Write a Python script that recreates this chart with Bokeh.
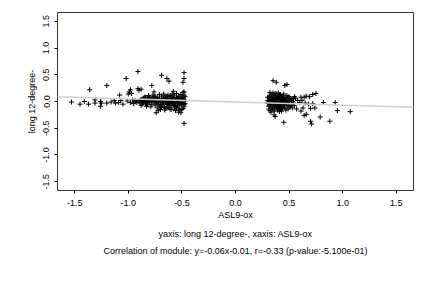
from bokeh.plotting import figure
from bokeh.models import Range1d, Title, FixedTicker, Slope, ColumnDataSource
from bokeh.embed import file_html
from bokeh.resources import INLINE

# ---- data ----
left_x = [-1.53, -1.45, -1.41, -1.36, -1.37, -1.31, -1.31, -1.26, -1.26, -1.25, -1.20, -1.20, -1.16, -1.13,
          -1.12, -1.09, -1.08, -1.07, -1.05, -1.02, -1.01, -1.00, -0.99, -0.98, -0.97, -0.98, -0.96, -0.95,
          -0.93, -0.91, -0.91, -0.90, -0.88, -0.89, -0.87, -0.78, -0.76, -0.69, -0.64, -0.62, -0.49, -0.48,
          -0.48, -0.48, -0.48, -0.49, -0.74, -0.72, -0.70, -0.66, -0.60, -0.56, -0.53, -0.51, -0.50, -0.58,
          -0.67, -0.81, -0.84, -0.62,
          -0.90, -0.89, -0.88, -0.87, -0.86, -0.86, -0.85, -0.84, -0.84, -0.83, -0.82, -0.82, -0.81, -0.80,
          -0.80, -0.79, -0.78, -0.78, -0.77, -0.76, -0.76, -0.75, -0.75, -0.74, -0.74, -0.73, -0.73, -0.72,
          -0.72, -0.71, -0.71, -0.70, -0.70, -0.69, -0.69, -0.68, -0.68, -0.67, -0.67, -0.66, -0.66, -0.65,
          -0.65, -0.64, -0.64, -0.63, -0.63, -0.62, -0.62, -0.61, -0.61, -0.60, -0.60, -0.59, -0.59, -0.58,
          -0.58, -0.57, -0.57, -0.56, -0.56, -0.55, -0.55, -0.54, -0.54, -0.53, -0.53, -0.52, -0.52, -0.51,
          -0.51, -0.50, -0.50, -0.49, -0.49, -0.48, -0.48, -0.47, -0.47, -0.47,
          -0.88, -0.85, -0.83, -0.81, -0.79, -0.77, -0.75, -0.73, -0.71, -0.69, -0.67, -0.65, -0.63, -0.61,
          -0.59, -0.57, -0.55, -0.53, -0.51, -0.49, -0.48, -0.52, -0.56, -0.60, -0.64, -0.68, -0.72, -0.76,
          -0.80, -0.84, -0.62, -0.58, -0.54, -0.50, -0.66, -0.70, -0.74, -0.78, -0.82, -0.86, -0.92, -0.94,
          -0.60, -0.55, -0.50, -0.48, -0.53, -0.57, -0.63, -0.65]
left_y = [-0.01, -0.05, 0.00, 0.22, -0.05, -0.03, 0.03, 0.00, -0.09, -0.03, 0.30, -0.03, -0.01, 0.02,
          -0.03, -0.02, 0.12, 0.02, -0.05, 0.43, 0.01, 0.14, 0.18, 0.22, 0.15, -0.02, 0.03, -0.04,
          0.01, 0.56, 0.24, 0.21, 0.23, 0.02, -0.05, 0.30, 0.18, 0.49, 0.43, 0.38, 0.36, 0.43,
          0.54, -0.41, 0.18, 0.17, -0.21, -0.17, -0.15, -0.16, -0.15, -0.17, -0.20, -0.21, -0.15, 0.19,
          0.12, 0.10, 0.08, -0.08,
          0.01, -0.03, 0.04, 0.00, -0.02, 0.06, 0.02, -0.04, 0.03, 0.00, 0.05, -0.06, 0.01, -0.02,
          0.07, 0.03, -0.05, 0.00, 0.04, -0.01, 0.09, -0.07, 0.02, 0.05, -0.03, 0.00, 0.08, -0.05,
          0.03, 0.06, -0.09, 0.01, -0.02, 0.10, 0.04, -0.06, 0.00, 0.07, -0.03, 0.02, -0.10, 0.05,
          -0.01, 0.09, -0.05, 0.03, -0.12, 0.00, 0.06, -0.04, 0.11, 0.02, -0.08, 0.05, -0.02, 0.08,
          -0.06, 0.01, 0.12, -0.03, 0.04, -0.11, 0.07, 0.00, -0.05, 0.10, 0.03, -0.08, 0.05, -0.01,
          0.13, 0.02, -0.06, 0.08, -0.03, 0.04, -0.10, 0.01, -0.04, 0.09,
          -0.07, 0.08, -0.09, 0.11, -0.10, 0.12, 0.10, -0.12, 0.13, -0.11, 0.14, -0.13, 0.12, -0.14,
          0.14, -0.12, 0.15, -0.14, 0.10, -0.13, 0.12, -0.16, -0.09, 0.09, 0.00, 0.03, -0.01, 0.03,
          0.02, -0.01, -0.02, 0.03, 0.06, -0.02, 0.05, -0.05, 0.01, 0.06, -0.03, 0.03, -0.02, 0.02,
          0.00, 0.02, 0.05, -0.06, -0.03, -0.07, -0.05, 0.08]

right_x = [0.35, 0.38, 0.46, 0.48, 0.32, 0.93, 0.95, 1.07, 0.82, 0.79, 0.88, 0.70, 0.71, 0.45,
           0.69, 0.72, 0.75, 0.66, 0.61, 0.64, 0.65, 0.68, 0.72, 0.63, 0.70, 0.74, 0.66, 0.64,
           0.53, 0.56, 0.60, 0.33, 0.36, 0.37, 0.58, 0.62, 0.55, 0.51, 0.57, 0.61,
           0.30, 0.30, 0.31, 0.31, 0.31, 0.32, 0.32, 0.32, 0.33, 0.33, 0.33, 0.33, 0.34, 0.34,
           0.34, 0.35, 0.35, 0.35, 0.35, 0.36, 0.36, 0.36, 0.36, 0.37, 0.37, 0.37, 0.37, 0.38,
           0.38, 0.38, 0.38, 0.39, 0.39, 0.39, 0.39, 0.40, 0.40, 0.40, 0.40, 0.41, 0.41, 0.41,
           0.41, 0.42, 0.42, 0.42, 0.42, 0.43, 0.43, 0.43, 0.43, 0.44, 0.44, 0.44, 0.45, 0.45,
           0.45, 0.46, 0.46, 0.46, 0.47, 0.47, 0.47, 0.48, 0.48, 0.49, 0.49, 0.50, 0.50, 0.51,
           0.52, 0.53, 0.54, 0.55,
           0.30, 0.31, 0.32, 0.33, 0.34, 0.35, 0.36, 0.37, 0.38, 0.39, 0.40, 0.41, 0.42, 0.43,
           0.44, 0.45, 0.46, 0.48, 0.49, 0.50, 0.52, 0.53, 0.51, 0.54, 0.34, 0.36, 0.38, 0.40,
           0.42, 0.44, 0.32, 0.35, 0.37, 0.39, 0.41, 0.43, 0.45, 0.47, 0.33, 0.31]
right_y = [0.39, 0.36, 0.30, 0.32, 0.17, -0.02, -0.17, -0.19, -0.02, -0.29, -0.37, -0.37, -0.42, -0.39,
           0.09, 0.13, 0.15, 0.10, 0.08, 0.08, -0.03, -0.05, -0.04, -0.12, -0.13, -0.12, -0.24, -0.26,
           0.05, 0.06, -0.02, -0.20, -0.25, -0.28, 0.02, 0.02, -0.08, -0.10, -0.14, -0.18,
           0.02, -0.04, 0.07, -0.01, -0.09, 0.04, -0.06, 0.10, 0.00, -0.03, 0.06, -0.12, 0.02, -0.07,
           0.09, -0.02, 0.05, -0.10, 0.12, 0.01, -0.05, 0.07, -0.14, 0.03, -0.08, 0.11, -0.01, 0.06,
           -0.04, -0.11, 0.00, 0.09, -0.02, 0.04, -0.07, 0.01, -0.13, 0.07, -0.04, 0.03, -0.09, 0.12,
           -0.01, 0.05, -0.06, 0.00, -0.15, 0.08, -0.03, 0.02, -0.10, 0.04, -0.05, 0.10, -0.01, -0.08,
           0.06, 0.01, -0.12, 0.03, -0.04, 0.08, -0.16, 0.00, -0.07, 0.05, -0.02, 0.02, -0.10, 0.06,
           -0.05, 0.00, -0.03, 0.09,
           0.08, -0.14, -0.17, 0.14, -0.15, 0.16, -0.18, 0.15, 0.14, -0.16, 0.16, -0.19, 0.13, -0.18,
           -0.13, 0.14, -0.06, 0.11, -0.14, 0.09, 0.03, -0.12, -0.08, 0.05, 0.04, -0.02, 0.03, -0.07,
           0.02, 0.00, -0.02, 0.01, -0.05, 0.00, 0.05, -0.06, 0.03, 0.00, 0.03, 0.01]

fit_slope = -0.06
fit_intercept = -0.01

x_ticks = [-1.5, -1.0, -0.5, 0.0, 0.5, 1.0, 1.5]
y_ticks = [-1.5, -1.0, -0.5, 0.0, 0.5, 1.0, 1.5]

x_title = "ASL9-ox"
y_title = "long 12-degree-"
line1 = "yaxis: long 12-degree-, xaxis: ASL9-ox"
line2 = "Correlation of module: y=-0.06x-0.01, r=-0.33 (p-value:-5.100e-01)"

FONT = "Liberation Sans"
FS = "9px"

p = figure(width=432, height=288, output_backend="svg", toolbar_location=None,
           x_range=Range1d(-1.66, 1.66), y_range=Range1d(-1.665, 1.665),
           min_border_left=57, min_border_right=19, min_border_top=12, min_border_bottom=98)
p.background_fill_color = "white"
p.border_fill_color = "white"
p.outline_line_color = "#333333"
p.outline_line_width = 1
p.xgrid.visible = False
p.ygrid.visible = False

for ax in (p.xaxis[0], p.yaxis[0]):
    ax.axis_line_color = None
    ax.major_tick_line_color = "black"
    ax.major_tick_in = 0
    ax.major_tick_out = 3
    ax.minor_tick_line_color = None
    ax.major_label_text_font = FONT
    ax.major_label_text_font_size = FS
    ax.major_label_text_color = "black"
    ax.axis_label_text_font = FONT
    ax.axis_label_text_font_size = FS
    ax.axis_label_text_font_style = "normal"
    ax.axis_label_text_color = "black"

p.xaxis.ticker = FixedTicker(ticks=x_ticks)
p.yaxis.ticker = FixedTicker(ticks=y_ticks)
p.xaxis.major_label_overrides = {t: f"{t:.1f}" for t in x_ticks}
p.yaxis.major_label_overrides = {t: f"{t:.1f}" for t in y_ticks}
p.yaxis.major_label_orientation = "vertical"
p.xaxis.major_label_standoff = 6
p.yaxis.major_label_standoff = 5
p.xaxis.axis_label = x_title
p.yaxis.axis_label = y_title
p.xaxis.axis_label_standoff = 1
p.yaxis.axis_label_standoff = 4

p.add_layout(Slope(gradient=fit_slope, y_intercept=fit_intercept,
                   line_color="#cfcfcf", line_width=1.5))

src = ColumnDataSource(dict(x=left_x + right_x, y=left_y + right_y))
p.scatter("x", "y", source=src, marker="cross", size=5, line_color="black", line_width=1)

t1 = Title(text=line1, align="center", text_font=FONT, text_font_size=FS,
           text_font_style="normal", text_color="black", standoff=8, offset=0)
t2 = Title(text=line2, align="center", text_font=FONT, text_font_size=FS,
           text_font_style="normal", text_color="black", standoff=2, offset=0)
p.add_layout(t1, "below")
p.add_layout(t2, "below")

open("out.html", "w").write(file_html(p, INLINE))
